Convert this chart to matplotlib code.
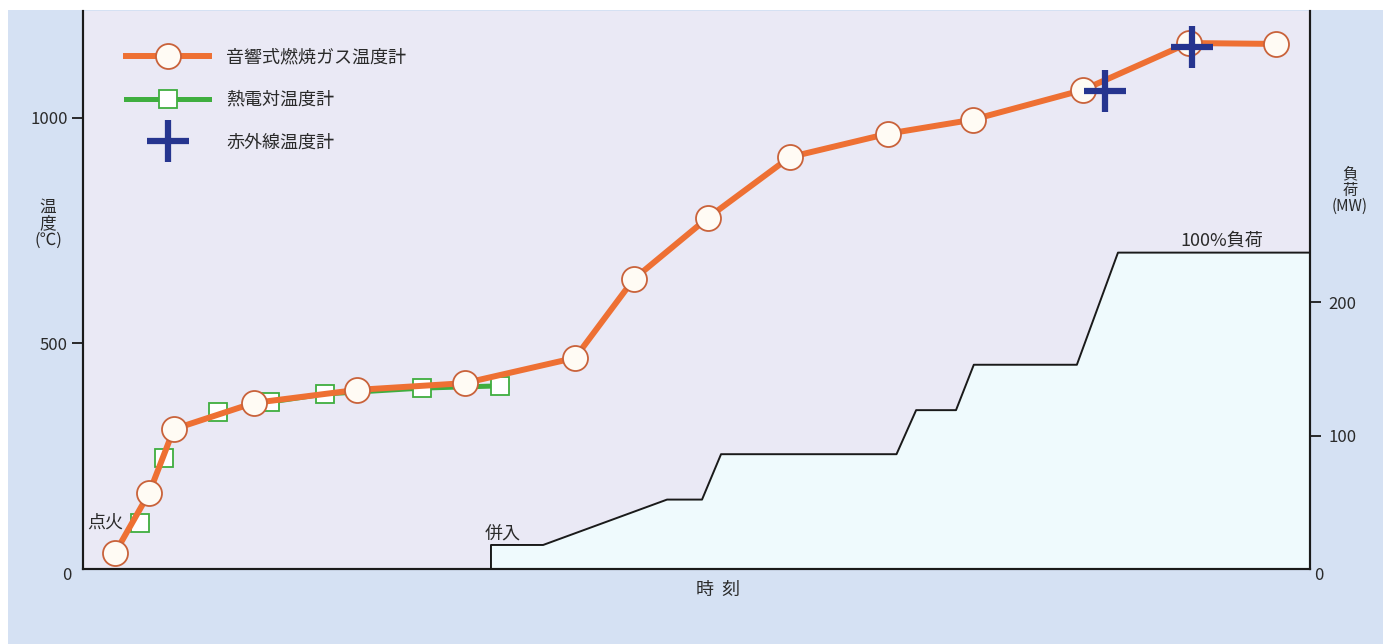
import matplotlib
matplotlib.use("Agg")
import matplotlib.pyplot as plt
from matplotlib.patches import Rectangle
from matplotlib.lines import Line2D

plt.rcParams['font.family'] = ['Noto Sans CJK JP', 'DejaVu Sans']

# time axis has no scale in the original, 0..100 arbitrary units
acoustic_t = [2.6, 5.4, 7.4, 13.9, 22.3, 31.1, 40.1, 44.9, 50.9, 57.6, 65.6, 72.5, 81.5, 90.1, 97.2]
acoustic_temp = [35, 169, 310, 368, 397, 412, 468, 643, 778, 913, 965, 996, 1062, 1166, 1164]

thermo_t = [4.65, 6.6, 11.0, 15.2, 19.7, 27.6, 34.0]
thermo_temp = [102, 246, 348, 370, 388, 401, 406]

ir_t = [83.3, 90.4]
ir_temp = [1060, 1157]

load_t = [33.25, 33.25, 37.5, 47.6, 50.45, 52.0, 66.3, 67.9, 71.15, 72.6, 81.0, 84.35, 100.0]
load_mw = [0, 18, 18, 52, 52, 86, 86, 119, 119, 153, 153, 237, 237]

orange = '#ee7033'
green = '#3fae3f'
navy = '#26358f'
outer_bg = '#d5e1f3'
plot_bg = '#eae9f5'
load_fill = '#effafd'
txt = '#2a2a2a'

W, H = 1391, 644
fig = plt.figure(figsize=(W / 100, H / 100), dpi=100, facecolor='white')
fig.patches.append(Rectangle((8 / W, 0), 1375 / W, 634 / H,
                             transform=fig.transFigure, facecolor=outer_bg,
                             edgecolor='none', zorder=-10))

ax_load = fig.add_axes([83 / W, 1 - 569 / H, 1227 / W, 558 / H])
ax = ax_load.twinx()
ax_load.yaxis.tick_right()
ax.yaxis.tick_left()
ax.set_zorder(ax_load.get_zorder() + 1)
ax.patch.set_visible(False)
ax_load.set_facecolor(plot_bg)

# load (MW), stepped area
ax_load.fill_between(load_t, load_mw, 0, color=load_fill, zorder=1)
ax_load.plot(load_t, load_mw, color='#1a1a1a', lw=1.4, zorder=2)
ax_load.set_xlim(0, 100)
ax_load.set_ylim(0, 418)
ax_load.set_yticks([100, 200])
ax_load.set_xticks([])

# temperatures (green line only shows where it leaves the orange one)
ax.plot(thermo_t[3:], thermo_temp[3:], color=green, lw=3.6, zorder=3)
ax.plot(thermo_t, thermo_temp, ls='none', marker='s', ms=13,
        mfc='white', mec=green, mew=1.3, zorder=4)
ax.plot(acoustic_t, acoustic_temp, color=orange, lw=4.3, marker='o', ms=18,
        mfc='#fffbf4', mec='#c9623a', mew=1.3, zorder=5)
ax.plot(ir_t, ir_temp, ls='none', marker='+', ms=30, mew=4.5, color=navy, zorder=6)
ax.set_xlim(0, 100)
ax.set_ylim(0, 1237)
ax.set_yticks([500, 1000])

for a in (ax, ax_load):
    a.spines['top'].set_visible(False)
    for s in ('left', 'right', 'bottom'):
        a.spines[s].set_linewidth(1.5)
        a.spines[s].set_color('#1a1a1a')
    a.tick_params(axis='y', length=8, width=1.3, color='#1a1a1a',
                  labelsize=12, labelcolor=txt)
ax.tick_params(axis='y', labelleft=True, labelright=False, left=True, right=False, pad=3)
ax_load.tick_params(axis='y', labelleft=False, labelright=True, left=False, right=True, pad=5)

# zero labels sit below the corners
fig.text(67 / W, 1 - 576 / H, '0', fontsize=12, color=txt, ha='center', va='center')
fig.text(1319 / W, 1 - 576 / H, '0', fontsize=12, color=txt, ha='center', va='center')

# annotations
ax.text(1.8, 102, '点火', fontsize=13, color=txt, ha='center', va='center', zorder=7)
ax.text(34.2, 78, '併入', fontsize=13, color=txt, ha='center', va='center', zorder=7)
ax_load.text(92.8, 246, '100%負荷', fontsize=13, color=txt, ha='center', va='center')

fig.text(48 / W, 1 - 224 / H, '温\n度\n(℃)', fontsize=12, color=txt,
         ha='center', va='center', linespacing=0.95)
fig.text(1350 / W, 1 - 190 / H, '負\n荷\n(MW)', fontsize=11, color=txt,
         ha='center', va='center', linespacing=0.95)
fig.text(718 / W, 1 - 590 / H, '時  刻', fontsize=13, color=txt,
         ha='center', va='center')

handles = [
    Line2D([], [], color=orange, lw=4.3, marker='o', ms=18, mfc='#fffbf4', mec='#c9623a', mew=1.3),
    Line2D([], [], color=green, lw=3.6, marker='s', ms=13, mfc='white', mec=green, mew=1.3),
    Line2D([], [], ls='none', color=navy, marker='+', ms=30, mew=4.5),
]
labels = ['音響式燃焼ガス温度計', '熱電対温度計', '赤外線温度計']
ax.legend(handles, labels, loc='upper left', bbox_to_anchor=(0.022, 0.962),
          frameon=False, fontsize=13, handlelength=4.6, labelspacing=1.36,
          handletextpad=0.95, labelcolor=txt)

fig.savefig('out.png', dpi=100, facecolor=fig.get_facecolor())
